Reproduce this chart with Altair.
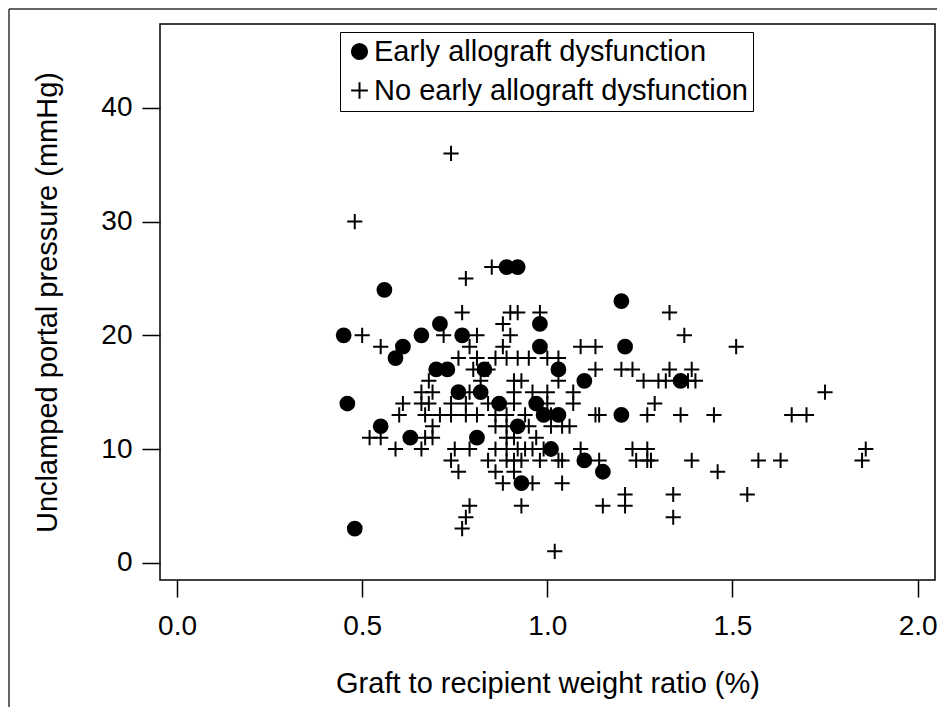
import altair as alt
import pandas as pd

# Early allograft dysfunction (filled circles)
ead_ratio = [0.45, 0.46, 0.48, 0.56, 0.55, 0.59, 0.61, 0.63, 0.66, 0.71, 0.70, 0.73,
             0.77, 0.76, 0.82, 0.83, 0.81, 0.87, 0.89, 0.92, 0.92, 0.93, 0.98, 0.98,
             0.97, 0.99, 1.03, 1.03, 1.01, 1.10, 1.10, 1.15, 1.20, 1.21, 1.20, 1.36]
ead_pressure = [20, 14, 3, 24, 12, 18, 19, 11, 20, 21, 17, 17,
                20, 15, 15, 17, 11, 14, 26, 26, 12, 7, 21, 19,
                14, 13, 17, 13, 10, 16, 9, 8, 23, 19, 13, 16]

# No early allograft dysfunction (crosses)
no_ead_ratio = [
    0.74,
    0.48,
    0.85,
    0.78,
    0.77, 0.90, 0.92, 0.98, 1.33,
    0.88,
    0.50, 0.72, 0.81, 0.90, 1.37,
    0.55, 0.79, 0.88, 1.09, 1.13, 1.51,
    0.76, 0.81, 0.86, 0.89, 0.92, 0.95, 1.00, 1.03,
    0.80, 0.84, 1.13, 1.20, 1.23, 1.33, 1.39,
    0.68, 0.82, 0.91, 0.93, 1.03, 1.26, 1.30, 1.32, 1.38, 1.40,
    0.66, 0.69, 0.79, 0.91, 0.96, 1.00, 1.07, 1.75,
    0.61, 0.66, 0.68, 0.74, 0.78, 0.84, 0.91, 1.00, 1.07, 1.29,
    0.60, 0.67, 0.71, 0.74, 0.78, 0.81, 0.86, 0.89, 0.94, 1.01, 1.13, 1.14, 1.27, 1.36, 1.45, 1.66, 1.70,
    0.69, 0.86, 0.89, 0.95, 1.01, 1.04, 1.06,
    0.52, 0.55, 0.67, 0.69, 0.89, 0.91, 0.97,
    0.59, 0.66, 0.75, 0.79, 0.86, 0.89, 0.92, 0.94, 0.96, 0.99, 1.09, 1.23, 1.27, 1.86,
    0.74, 0.84, 0.89, 0.91, 0.93, 0.98, 1.03, 1.04, 1.14, 1.24, 1.27, 1.28, 1.39, 1.57, 1.63, 1.85,
    0.76, 0.86, 0.91, 1.46,
    0.88, 0.96, 1.04,
    1.21, 1.34, 1.54,
    0.79, 0.93, 1.15, 1.21,
    0.78, 1.34,
    0.77,
    1.02,
]
no_ead_pressure = [
    36,
    30,
    26,
    25,
    22, 22, 22, 22, 22,
    21,
    20, 20, 20, 20, 20,
    19, 19, 19, 19, 19, 19,
    18, 18, 18, 18, 18, 18, 18, 18,
    17, 17, 17, 17, 17, 17, 17,
    16, 16, 16, 16, 16, 16, 16, 16, 16, 16,
    15, 15, 15, 15, 15, 15, 15, 15,
    14, 14, 14, 14, 14, 14, 14, 14, 14, 14,
    13, 13, 13, 13, 13, 13, 13, 13, 13, 13, 13, 13, 13, 13, 13, 13, 13,
    12, 12, 12, 12, 12, 12, 12,
    11, 11, 11, 11, 11, 11, 11,
    10, 10, 10, 10, 10, 10, 10, 10, 10, 10, 10, 10, 10, 10,
    9, 9, 9, 9, 9, 9, 9, 9, 9, 9, 9, 9, 9, 9, 9, 9,
    8, 8, 8, 8,
    7, 7, 7,
    6, 6, 6,
    5, 5, 5, 5,
    4, 4,
    3,
    1,
]

groups = ["Early allograft dysfunction", "No early allograft dysfunction"]
x_ticks = [0.0, 0.5, 1.0, 1.5, 2.0]
y_ticks = [0, 10, 20, 30, 40]

df = pd.DataFrame({
    "ratio": ead_ratio + no_ead_ratio,
    "pressure": ead_pressure + no_ead_pressure,
    "group": [groups[0]] * len(ead_ratio) + [groups[1]] * len(no_ead_ratio),
})

FONT = "Liberation Sans"
W, H = 775, 556
cross_path = "M-1.1,0L1.1,0M0,-1.1L0,1.1"

legend = alt.Legend(
    title=None, orient="none", legendX=180, legendY=8,
    labelFont=FONT, labelFontSize=29, labelColor="black", labelLimit=600,
    labelOffset=0, symbolSize=230, symbolStrokeWidth=2,
    strokeColor="black", fillColor="white", padding=5, rowPadding=9,
)

points = alt.Chart(df).mark_point(
    opacity=1, fillOpacity=1, strokeWidth=2, size=190
).encode(
    x=alt.X("ratio:Q",
            scale=alt.Scale(domain=[-0.046, 2.047], nice=False, zero=False),
            axis=alt.Axis(values=x_ticks, format=".1f",
                          title="Graft to recipient weight ratio (%)",
                          labelFontSize=28, titleFontSize=29, labelPadding=15,
                          titlePadding=29, tickSize=17)),
    y=alt.Y("pressure:Q",
            scale=alt.Scale(domain=[-1.52, 47.38], nice=False, zero=False),
            axis=alt.Axis(values=y_ticks, format="d",
                          title="Unclamped portal pressure (mmHg)",
                          labelFontSize=28, titleFontSize=29, labelPadding=10,
                          titlePadding=38, tickSize=18)),
    shape=alt.Shape("group:N", scale=alt.Scale(domain=groups, range=["circle", cross_path]), legend=legend),
    fill=alt.Fill("group:N", scale=alt.Scale(domain=groups, range=["black", "transparent"]), legend=legend),
    stroke=alt.Stroke("group:N", scale=alt.Scale(domain=groups, range=["black", "black"]), legend=legend),
)

frame_df = pd.DataFrame({"k": [0]})
top_line = alt.Chart(frame_df).mark_rule(color="#333", strokeWidth=1.5).encode(
    x=alt.value(-151), x2=alt.value(W + 2), y=alt.value(-15)
)
left_line = alt.Chart(frame_df).mark_rule(color="#333", strokeWidth=1.5).encode(
    x=alt.value(-151), y=alt.value(-15), y2=alt.value(H + 127)
)

chart = alt.layer(points, top_line, left_line).properties(
    width=W, height=H,
    autosize=alt.AutoSizeParams(type="none"),
    padding={"left": 152, "top": 16, "right": 2, "bottom": 127},
).configure_view(
    stroke="black", strokeWidth=1.5
).configure_axis(
    domain=False, grid=False, labelFont=FONT, titleFont=FONT,
    labelColor="black", titleColor="black", tickColor="black", tickWidth=1.5,
    titleFontWeight="normal",
)

chart.save("out.html", embed_options={"renderer": "svg", "actions": False})
